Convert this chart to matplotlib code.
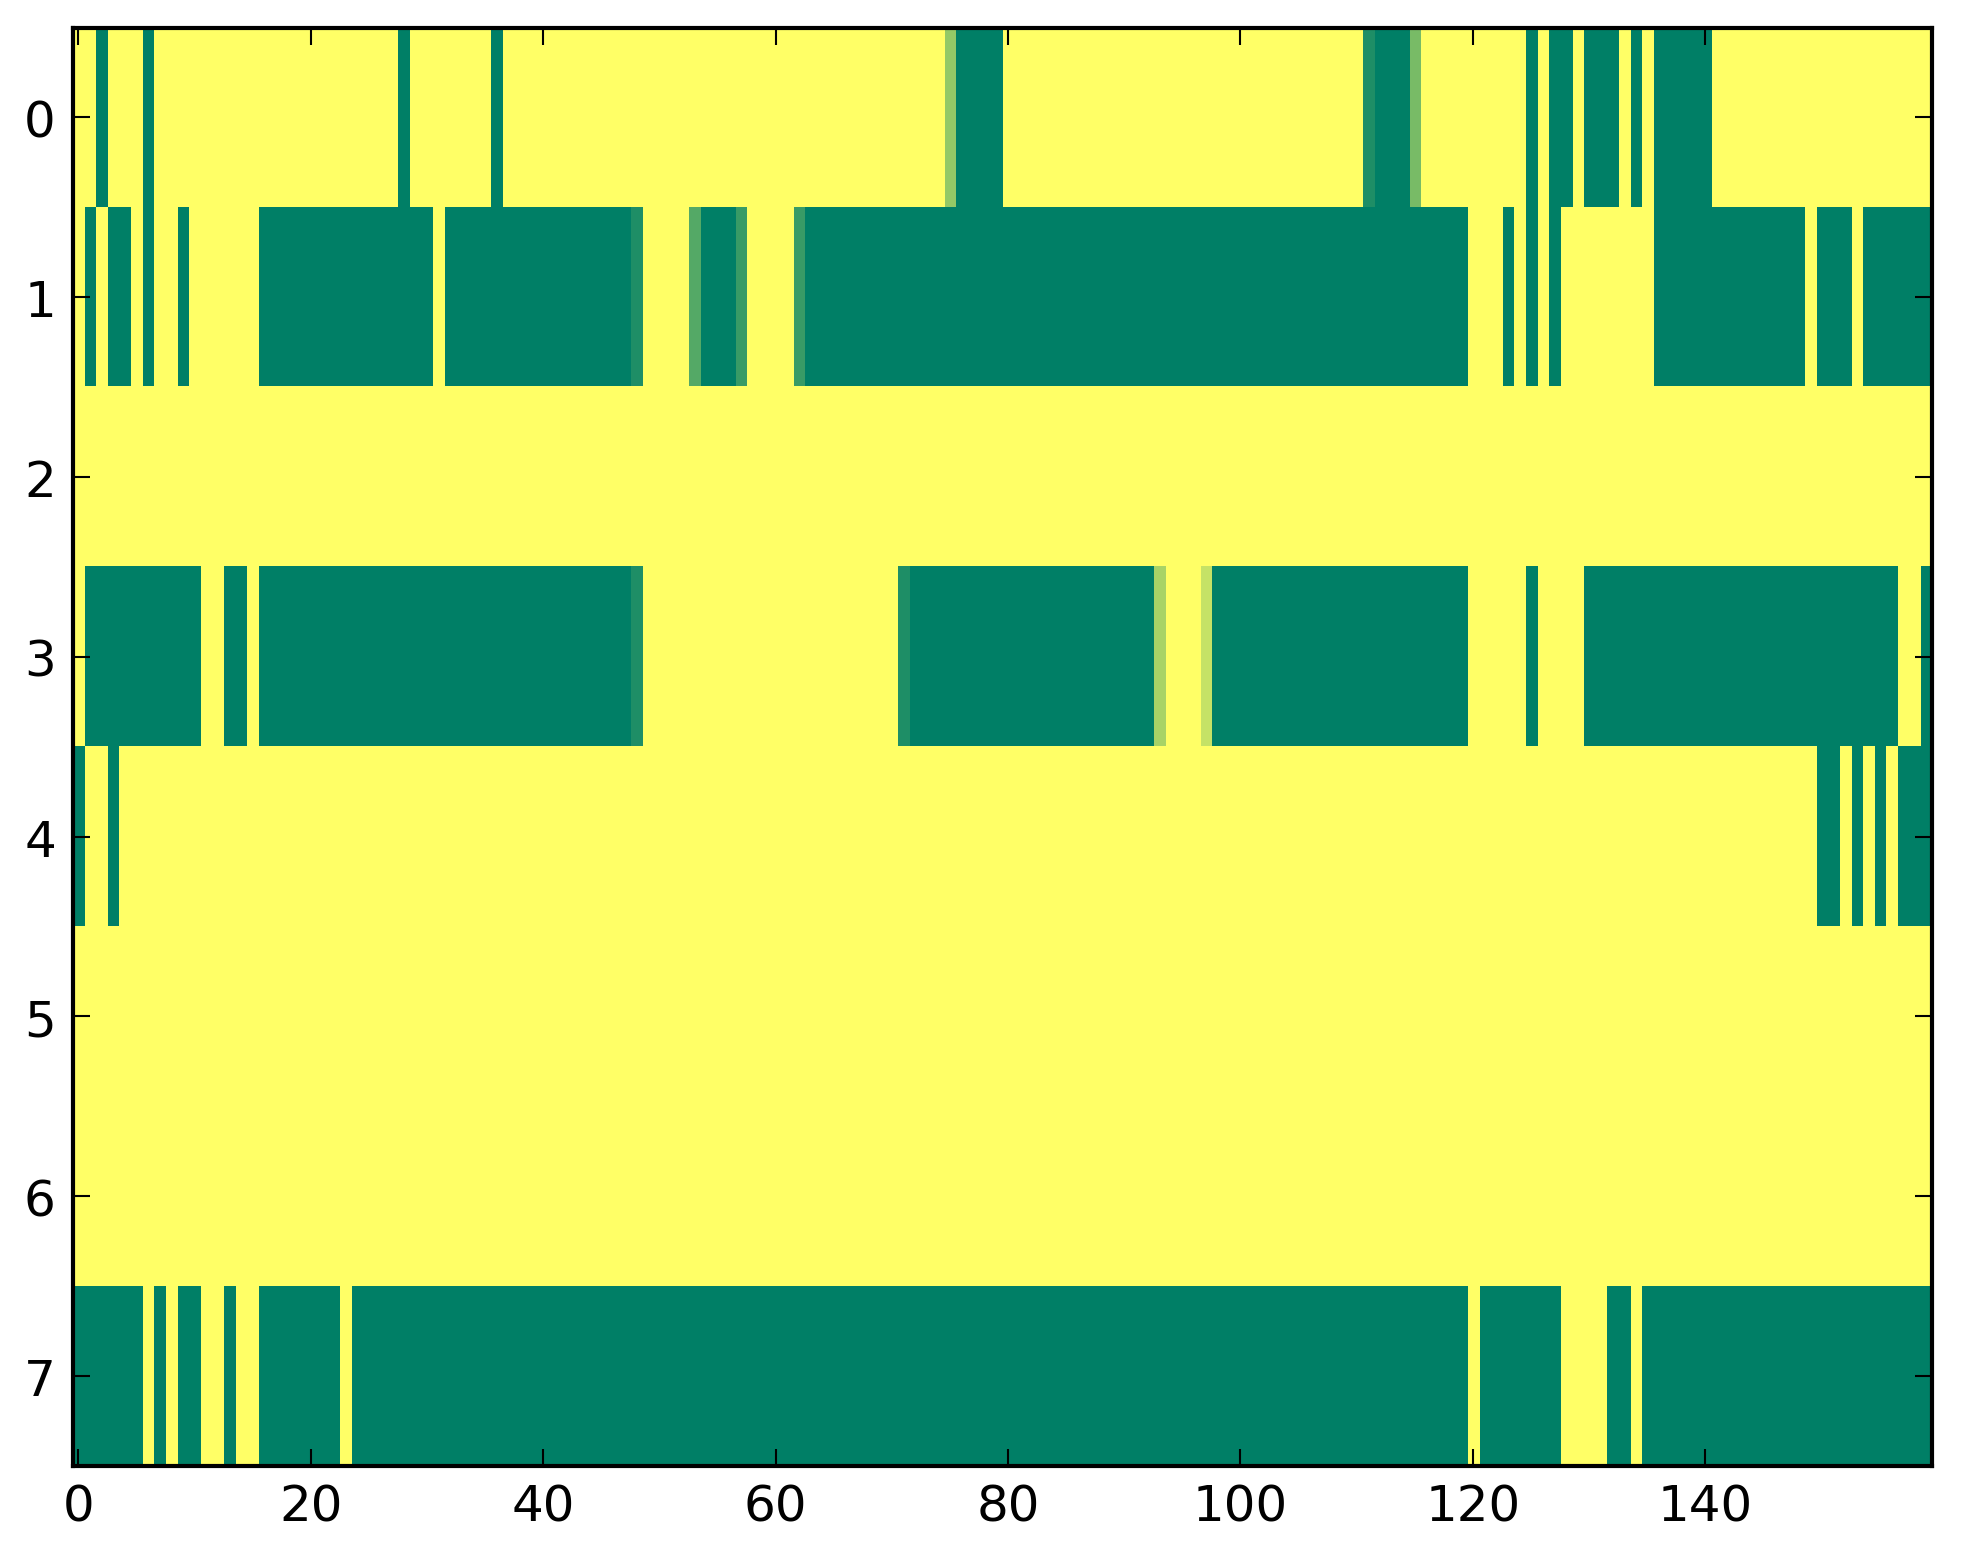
import numpy as np
import matplotlib
matplotlib.use("Agg")
import matplotlib.pyplot as plt

# cell codes: '#' = 0 (green), '.' = 1 (yellow), letters = values in between
levels = {"#": 0.0, ".": 1.0, "a": 0.12, "b": 0.22, "c": 0.33,
          "d": 0.47, "e": 0.58, "f": 0.66, "g": 0.77}

# each row: 16 groups of 10 cells
row0 = ("..#...#... .......... ........#. ......#... .......... "
        ".......... .......... .....e#### .......... .......... "
        ".......... .a###d.... .....#.##. ###.#.#### #......... ..........")
row1 = (".#.##.#..# ......#### ########## #.######## ########a. "
        "...c###b.. ..b####### ########## ########## ########## "
        "########## ########## ...#.#.#.. ......#### #########. ###.######")
row2 = (".......... .......... .......... .......... .......... "
        ".......... .......... .......... .......... .......... "
        ".......... .......... .......... .......... .......... ..........")
row3 = (".######### #..##.#### ########## ########## ########a. "
        ".......... .......... .a######## ########## ###f...g## "
        "########## ########## .....#.... ########## ########## #######..#")
row4 = ("#..#...... .......... .......... .......... .......... "
        ".......... .......... .......... .......... .......... "
        ".......... .......... .......... .......... .......... ##.#.#.###")
row5 = row2
row6 = row2
row7 = ("######.#.# #..#..#### ###.###### ########## ########## "
        "########## ########## ########## ########## ########## "
        "########## ########## .#######.. ..##.##### ########## ##########")

rows = [row0, row1, row2, row3, row4, row5, row6, row7]
grid = np.array([[levels[ch] for ch in r.replace(" ", "")] for r in rows])

plt.rcParams["font.family"] = "DejaVu Sans"
plt.rcParams["font.size"] = 12

fig = plt.figure(figsize=(1963 / 300, 1564 / 300), dpi=300)
ax = fig.add_axes([72.5 / 1963, 1 - 1467 / 1564,
                   (1932 - 72.5) / 1963, (1467 - 28.5) / 1564])
ax.imshow(grid, cmap="summer", vmin=0, vmax=1, aspect="auto",
          interpolation="nearest")

ax.set_xticks(np.arange(0, 141, 20))
ax.set_yticks(np.arange(0, 8))
ax.tick_params(direction="in", top=True, right=True, length=4, width=0.5,
               pad=4, labelsize=12)
for sp in ax.spines.values():
    sp.set_linewidth(1.0)

fig.savefig("out.png", dpi=300)
